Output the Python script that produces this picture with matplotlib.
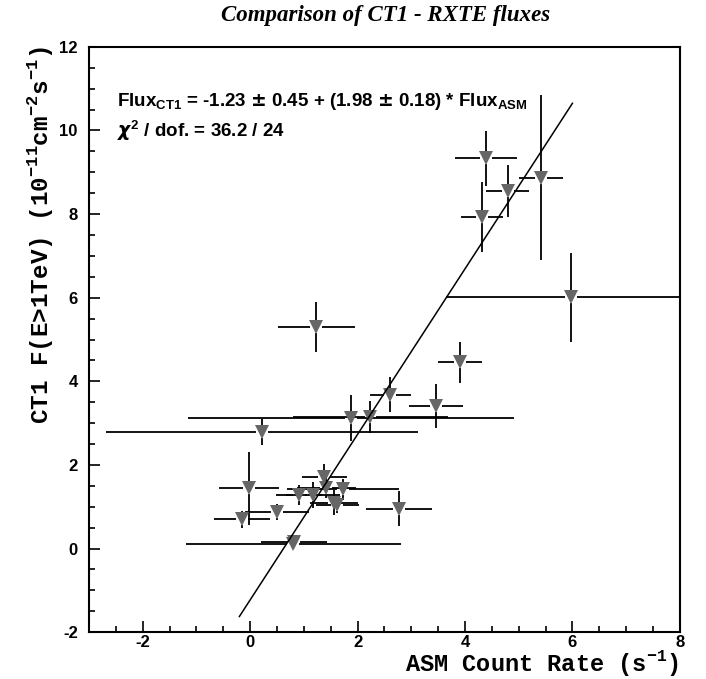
import numpy as np
import matplotlib
matplotlib.use("Agg")
import matplotlib.pyplot as plt
from matplotlib.ticker import MultipleLocator

plt.rcParams['axes.unicode_minus'] = False
plt.rcParams['font.family'] = ['Liberation Sans', 'DejaVu Sans']
plt.rcParams['font.weight'] = 'bold'

# --- data: ASM rate vs CT1 flux ---
asm_rate = [-0.15, -0.02, 0.50, 0.80, 0.82, 0.91, 1.17, 1.38, 1.42, 1.56, 1.62, 1.73,
            2.77, 0.22, 1.88, 2.24, 2.61, 3.46, 3.91, 1.23, 5.98, 4.32, 4.39, 4.80, 5.42]
asm_err = [0.52, 0.56, 0.60, 2.00, 0.62, 0.42, 0.50, 0.42, 0.55, 0.45, 0.40, 1.04,
           0.62, 2.90, 3.03, 1.44, 0.38, 0.51, 0.41, 0.72, 2.33, 0.39, 0.58, 0.40, 0.41]
ct1_flux = [0.70, 1.44, 0.87, 0.12, 0.15, 1.28, 1.28, 1.72, 1.45, 1.10, 1.04, 1.42,
            0.95, 2.79, 3.12, 3.15, 3.68, 3.41, 4.45, 5.30, 6.01, 7.93, 9.33, 8.56, 8.87]
ct1_err = [0.20, 0.87, 0.19, 0.10, 0.10, 0.25, 0.30, 0.30, 0.25, 0.30, 0.20, 0.25,
           0.42, 0.32, 0.55, 0.38, 0.42, 0.52, 0.48, 0.60, 1.06, 0.84, 0.66, 0.62, 1.97]

# fit result
FIT_A = -1.23
FIT_B = 1.98
fit_range = [-0.2, 6.0]

fig = plt.figure(figsize=(7.06, 6.79), dpi=100)
ax = fig.add_axes([0.126, 0.069, 0.837, 0.862])

# ROOT style error bars: leave a gap around the marker
x = np.array(asm_rate)
y = np.array(ct1_flux)
ex = np.array(asm_err)
ey = np.array(ct1_err)
gx, gy = 0.11, 0.14
mx = ex > gx
my = ey > gy
kw = dict(color='black', lw=1.3, zorder=2)
ax.hlines(y[mx], x[mx] - ex[mx], x[mx] - gx, **kw)
ax.hlines(y[mx], x[mx] + gx, x[mx] + ex[mx], **kw)
ax.vlines(x[my], y[my] - ey[my], y[my] - gy, **kw)
ax.vlines(x[my], y[my] + gy, y[my] + ey[my], **kw)
ax.plot(x, y, 'v', color='#666666', markersize=9.5, markeredgewidth=0, zorder=3)

xf = np.array(fit_range)
ax.plot(xf, FIT_A + FIT_B * xf, color='black', lw=1.1, zorder=4)

ax.set_xlim(-3, 8)
ax.set_ylim(-2, 12)
ax.set_xticks([-2, 0, 2, 4, 6, 8])
ax.xaxis.set_minor_locator(MultipleLocator(0.5))
ax.yaxis.set_major_locator(MultipleLocator(2))
ax.yaxis.set_minor_locator(MultipleLocator(0.5))
ax.tick_params(which='both', direction='in', top=False, right=False, width=1.2,
               labelsize=12)
ax.tick_params(axis='y', which='major', length=8, pad=8)
ax.tick_params(axis='x', which='major', length=8, pad=2)
ax.tick_params(which='minor', length=4)
for s in ax.spines.values():
    s.set_linewidth(1.5)

mono = dict(family='Liberation Mono', weight='bold', size=17)
fig.text(679 / 706, 1 - 671 / 679, r'ASM Count Rate (s$^{\mathregular{-1}}$)',
         ha='right', va='baseline', **mono)
fig.text(40 / 706, 1 - 46 / 679,
         r'CT1 F(E>1TeV) (10$^{\mathregular{-11}}$cm$^{\mathregular{-2}}$s$^{\mathregular{-1}}$)',
         ha='center', va='top', rotation=90, size=17.5,
         family='Liberation Mono', weight='bold')

sans = dict(family='Liberation Sans', weight='bold', size=13.5)
ax.text(-2.48, 10.7, r'Flux$_{\mathregular{CT1}}$ = -1.23 $\pm$ 0.45 + (1.98 $\pm$ 0.18) * Flux$_{\mathregular{ASM}}$',
        fontdict=sans, va='center')
ax.text(-2.48, 10.0, r'$\chi^{\mathregular{2}}$ / dof. = 36.2 / 24', fontdict=sans, va='center')

fig.text(386 / 706, 1 - 15 / 679, 'Comparison of CT1 - RXTE fluxes', ha='center', va='center',
         family='Liberation Serif', weight='bold', style='italic', size=16.5)

fig.savefig('out.png', dpi=100)
